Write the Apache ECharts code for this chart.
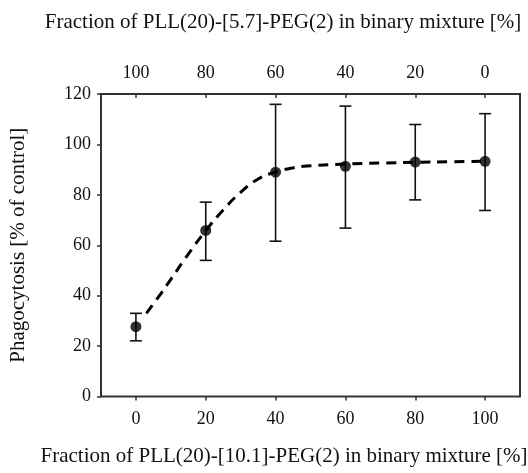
<!DOCTYPE html>
<html><head><meta charset="utf-8">
<script src="https://cdn.jsdelivr.net/npm/echarts@6/dist/echarts.min.js"></script>
<style>html,body{margin:0;padding:0;background:#fff}#c{width:528px;height:473px}</style>
</head><body><div id="c"></div>
<script>
var bottomTicks = [0, 20, 40, 60, 80, 100];
var yTicks = [0, 20, 40, 60, 80, 100, 120];
var xVals = [0, 20, 40, 60, 80, 100];
var means = [27.7, 65.9, 89.0, 91.3, 93.0, 93.3];
var upper = [33.0, 77.1, 115.9, 115.2, 107.9, 112.2];
var lower = [22.1, 54.0, 61.6, 66.8, 78.0, 73.8];
var fitX = [3, 7, 10, 15, 20, 25, 30, 35, 40, 45, 50, 60, 70, 80, 90, 100];
var fitY = [33, 40.5, 46.5, 56.5, 65.8, 74, 81, 86.3, 89, 90.7, 91.5, 92.2, 92.6, 92.9, 93.1, 93.3];
var topTitle = 'Fraction of PLL(20)-[5.7]-PEG(2) in binary mixture [%]';
var bottomTitle = 'Fraction of PLL(20)-[10.1]-PEG(2) in binary mixture [%]';
var yTitle = 'Phagocytosis [% of control]';

var FONT = 'Liberation Serif';
var chart = echarts.init(document.getElementById('c'));
var lbl = {fontFamily: FONT, fontSize: 18, color: '#111'};
chart.setOption({
  animation: false,
  grid: {left: 100, right: 8, top: 94, bottom: 76.5, show: true, borderColor: '#333', borderWidth: 2},
  xAxis: [{
    type: 'value', position: 'bottom', min: -10, max: 110,
    splitLine: {show: false}, axisLine: {show: false, onZero: false},
    axisTick: {show: true, customValues: bottomTicks, length: 4, lineStyle: {color: '#333', width: 1.5}},
    axisLabel: Object.assign({customValues: bottomTicks, margin: 14}, lbl)
  }, {
    type: 'value', position: 'top', min: -10, max: 110, inverse: true,
    splitLine: {show: false}, axisLine: {show: false, onZero: false},
    axisTick: {show: true, inside: true, customValues: bottomTicks, length: 4, lineStyle: {color: '#333', width: 1.5}},
    axisLabel: Object.assign({customValues: bottomTicks, margin: 12}, lbl)
  }],
  yAxis: {
    type: 'value', min: 0, max: 120, interval: 20, position: 'left',
    splitLine: {show: false}, axisLine: {show: false, onZero: false},
    axisTick: {show: true, length: 4, lineStyle: {color: '#333', width: 1.5}},
    axisLabel: Object.assign({margin: 10}, lbl),
    name: yTitle, nameLocation: 'middle', nameGap: 72, nameRotate: 90,
    nameTextStyle: {fontFamily: FONT, fontSize: 21, color: '#111'}
  },
  graphic: [
    {type: 'text', x: 283, y: 22, style: {text: topTitle, font: '21px "Liberation Serif"', fill: '#111', textAlign: 'center', textVerticalAlign: 'middle'}},
    {type: 'text', x: 284, y: 456, style: {text: bottomTitle, font: '21px "Liberation Serif"', fill: '#111', textAlign: 'center', textVerticalAlign: 'middle'}}
  ],
  series: [{
    type: 'line', smooth: true, showSymbol: false,
    data: fitX.map(function (x, i) { return [x, fitY[i]]; }),
    lineStyle: {color: '#000', width: 3, type: [10, 7]}
  }, {
    type: 'custom',
    data: xVals.map(function (x, i) { return [x, lower[i], upper[i]]; }),
    renderItem: function (params, api) {
      var lo = api.coord([api.value(0), api.value(1)]);
      var hi = api.coord([api.value(0), api.value(2)]);
      var w = 6;
      var st = {stroke: '#111', lineWidth: 1.6};
      return {type: 'group', children: [
        {type: 'line', shape: {x1: hi[0], y1: hi[1], x2: lo[0], y2: lo[1]}, style: st},
        {type: 'line', shape: {x1: hi[0] - w, y1: hi[1], x2: hi[0] + w, y2: hi[1]}, style: st},
        {type: 'line', shape: {x1: lo[0] - w, y1: lo[1], x2: lo[0] + w, y2: lo[1]}, style: st}
      ]};
    }
  }, {
    type: 'scatter', symbol: 'circle', symbolSize: 11,
    data: xVals.map(function (x, i) { return [x, means[i]]; }),
    itemStyle: {color: '#000'}, z: 5
  }]
});
</script></body></html>
